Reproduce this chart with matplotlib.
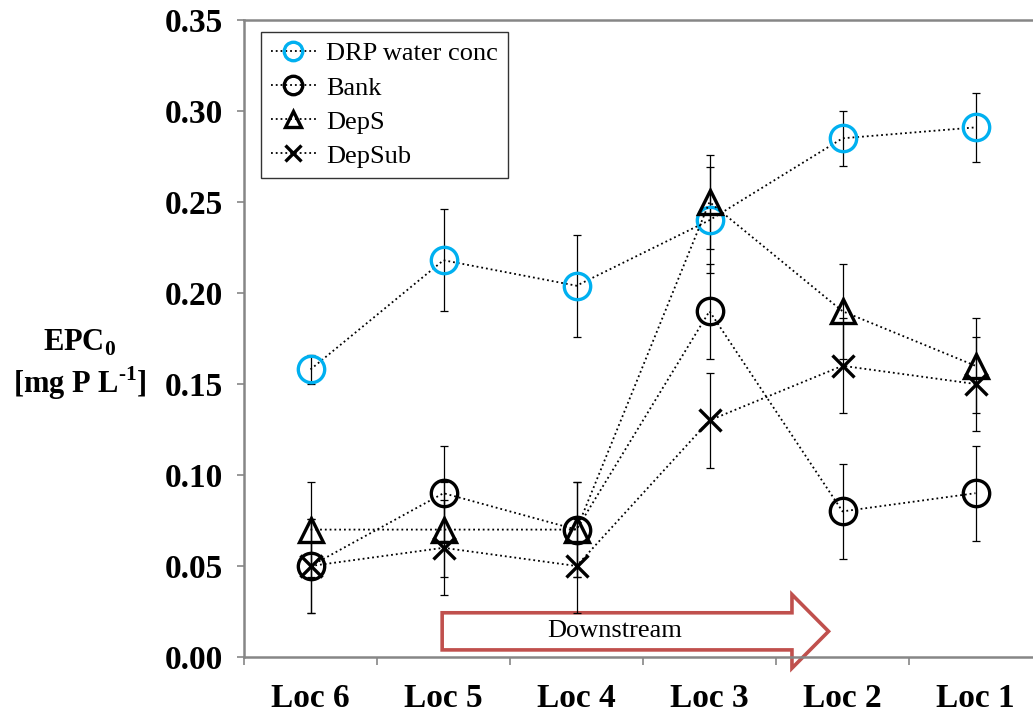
import numpy as np
import matplotlib
matplotlib.use("Agg")
import matplotlib.pyplot as plt
from matplotlib.patches import FancyArrow

plt.rcParams['font.family'] = ['Liberation Serif', 'DejaVu Serif']
plt.rcParams['mathtext.fontset'] = 'custom'
plt.rcParams['mathtext.rm'] = 'Liberation Serif'
plt.rcParams['mathtext.bf'] = 'Liberation Serif:bold'

locs = ["Loc 6", "Loc 5", "Loc 4", "Loc 3", "Loc 2", "Loc 1"]

drp = [0.158, 0.218, 0.204, 0.240, 0.285, 0.291]
drp_err = [0.008, 0.028, 0.028, 0.029, 0.015, 0.019]
bank = [0.05, 0.09, 0.07, 0.19, 0.08, 0.09]
bank_err = [0.026, 0.026, 0.026, 0.026, 0.026, 0.026]
deps = [0.07, 0.07, 0.07, 0.25, 0.19, 0.16]
deps_err = [0.026, 0.026, 0.026, 0.026, 0.026, 0.026]
depsub = [0.05, 0.06, 0.05, 0.13, 0.16, 0.15]
depsub_err = [0.026, 0.026, 0.026, 0.026, 0.026, 0.026]

W, H = 1033, 721
fig = plt.figure(figsize=(W / 100, H / 100), dpi=100)
# plot area runs past the right edge of the canvas
ax = fig.add_axes([244 / W, (H - 657) / H, 798 / W, 637 / H])

x = np.arange(len(locs))
series = [
    ("DRP water conc", drp, drp_err, 'o', '#00B0F0', 19),
    ("Bank", bank, bank_err, 'o', 'black', 19),
    ("DepS", deps, deps_err, '^', 'black', 17),
    ("DepSub", depsub, depsub_err, 'x', 'black', 16),
]

handles = []
for name, vals, err, mk, col, ms in series:
    ax.errorbar(x, vals, yerr=err, fmt='none', ecolor='black',
                elinewidth=0.9, capsize=3, capthick=0.9, zorder=2)
    ln, = ax.plot(x, vals, linestyle=':', color='black', linewidth=1.3,
                  marker=mk, markersize=ms, markerfacecolor='none',
                  markeredgecolor=col, markeredgewidth=2.4, label=name,
                  zorder=3)
    handles.append(ln)

ax.set_xlim(-0.5, 5.5)
ax.set_ylim(0, 0.35)
ax.set_yticks(np.arange(0, 0.351, 0.05))
ax.set_yticklabels([f"{v:.2f}" for v in np.arange(0, 0.351, 0.05)])
ax.set_xticks(x)
ax.set_xticklabels(locs)
ax.set_xticks(np.arange(-0.5, 5.6, 1), minor=True)

for lab in ax.get_xticklabels() + ax.get_yticklabels():
    lab.set_fontweight('bold')
    lab.set_fontsize(24)

ax.tick_params(axis='x', which='major', length=0, pad=19)
ax.tick_params(axis='x', which='minor', length=6, direction='out',
               color='#868686', width=1.2)
ax.tick_params(axis='y', which='major', length=5, direction='out',
               color='#868686', width=1.2, pad=10)

for side in ['left', 'bottom', 'top']:
    ax.spines[side].set_color('#868686')
    ax.spines[side].set_linewidth(1.8)
ax.spines['right'].set_visible(False)

# downstream arrow
arrow = FancyArrow(0.99, 0.0141, 2.905, 0, width=0.0204, head_width=0.0405,
                   head_length=0.275, length_includes_head=True,
                   facecolor='white', edgecolor='#C0504D', linewidth=2.6,
                   clip_on=False, zorder=1)
ax.add_patch(arrow)
ax.text(2.29, 0.0142, "Downstream", fontsize=19, ha='center', va='center',
        zorder=4)

leg = ax.legend(handles=handles, loc='upper left',
                bbox_to_anchor=(17 / 798, (657 - 32) / 637), borderaxespad=0,
                fontsize=19, frameon=True, fancybox=False, edgecolor='black',
                markerscale=0.7, handlelength=1.7, handletextpad=0.4,
                labelspacing=0.4, borderpad=0.38)
leg.get_frame().set_linewidth(1.0)
leg.set_zorder(5)

fig.text(80 / W, (H - 365) / H,
         "EPC$_{\\mathbf{0}}$\n[mg P L$^{\\mathbf{\u2010}\\mathbf{1}}$]",
         fontsize=22, fontweight='bold', ha='center', va='center',
         multialignment='center', linespacing=1.25)

fig.savefig("out.png", dpi=100)
